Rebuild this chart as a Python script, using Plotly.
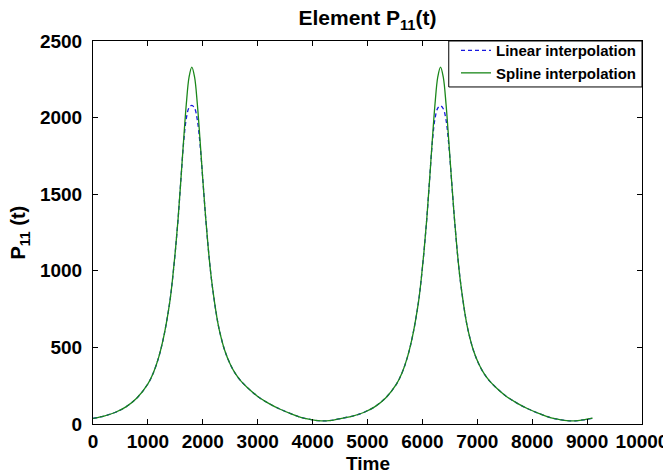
import plotly.graph_objects as go

# time samples (two periods, peaks near 1800 and 6330)
time = [0, 200, 400, 600, 800, 1000, 1100, 1200, 1300, 1400, 1450, 1500, 1550,
        1600, 1650, 1700, 1750, 1800, 1850, 1900, 1950, 2000, 2050, 2100, 2150,
        2200, 2250, 2300, 2400, 2500, 2600, 2700, 2800, 3000, 3200, 3400, 3600,
        3800, 4000, 4100, 4200, 4300, 4400,
        4530, 4730, 4930, 5130, 5330, 5530, 5630, 5730, 5830, 5930, 5980, 6030,
        6080, 6130, 6180, 6230, 6280, 6330, 6380, 6430, 6480, 6530, 6580, 6630,
        6680, 6730, 6780, 6830, 6930, 7030, 7130, 7230, 7330, 7530, 7730, 7930,
        8130, 8330, 8530, 8630, 8730, 8830, 8930, 9100]

spline_p11 = [37, 52, 75, 112, 170, 262, 335, 440, 590, 800, 950, 1130, 1340,
              1590, 1850, 2090, 2265, 2330, 2265, 2090, 1851, 1596, 1356, 1145, 968,
              830, 710, 615, 480, 390, 325, 278, 242, 180, 135, 98, 68,
              42, 27, 22, 20, 22, 27,
              37, 52, 75, 112, 170, 262, 335, 440, 590, 800, 950, 1130,
              1340, 1590, 1850, 2090, 2265, 2330, 2265, 2090, 1851, 1596, 1356, 1145,
              968, 830, 710, 615, 480, 390, 325, 278, 242, 180, 135, 98,
              68, 42, 27, 22, 20, 22, 27, 38]

linear_p11 = [37, 52, 75, 112, 170, 262, 335, 440, 590, 800, 950, 1130, 1340,
              1590, 1835, 1995, 2065, 2080, 2062, 1985, 1825, 1596, 1356, 1145, 968,
              830, 710, 615, 480, 390, 325, 278, 242, 180, 135, 98, 68,
              42, 27, 22, 20, 22, 27,
              37, 52, 75, 112, 170, 262, 335, 440, 590, 800, 950, 1130,
              1340, 1590, 1835, 1995, 2062, 2076, 2058, 1985, 1825, 1596, 1356, 1145,
              968, 830, 710, 615, 480, 390, 325, 278, 242, 180, 135, 98,
              68, 42, 27, 22, 20, 22, 27, 38]

font = "Arial, Liberation Sans, Helvetica, sans-serif"

fig = go.Figure()
fig.add_trace(go.Scatter(x=time, y=linear_p11, mode="lines", name="Linear interpolation",
                         line=dict(color="#1818e0", width=1.3, dash="4px,3px", shape="spline")))
fig.add_trace(go.Scatter(x=time, y=spline_p11, mode="lines", name="Spline interpolation",
                         line=dict(color="#1a871a", width=1.3, shape="spline")))

axis_style = dict(showline=True, linecolor="black", linewidth=1, mirror="ticks",
                  ticks="inside", ticklen=5, tickcolor="black", showgrid=False,
                  zeroline=False, automargin=False, tickformat="d",
                  tickfont=dict(family=font, size=19, color="black"))

# the page body has an 8px margin, so the margins are shifted by 8px
fig.update_layout(
    width=671, height=474,
    margin=dict(l=85, r=37, t=33, b=58),
    paper_bgcolor="white", plot_bgcolor="white",
    font=dict(family=font, color="black", weight="bold"),
    title=dict(text="<b>Element P<sub>11</sub>(t)</b>", x=0.5, xref="paper",
               xanchor="center", y=1 - 10 / 474, yref="container", yanchor="middle",
               font=dict(size=21)),
    xaxis=dict(range=[0, 10000], dtick=1000, ticklabelstandoff=0, **axis_style),
    yaxis=dict(range=[0, 2500], dtick=500, ticklabelstandoff=6, **axis_style),
    legend=dict(x=1, y=1.018, xanchor="right", yanchor="top",
                bgcolor="rgba(0,0,0,0)", borderwidth=0, tracegroupgap=0,
                font=dict(size=15, family=font)),
    showlegend=True,
    # legend box (tighter than plotly's own legend border)
    shapes=[dict(type="rect", xref="paper", yref="paper", x0=0.648, x1=1,
                 y0=0.880, y1=1, fillcolor="white", layer="above",
                 line=dict(color="black", width=1))],
    annotations=[
        dict(text="<b>Time</b>", xref="paper", yref="paper", x=0.5, y=-0.102,
             yanchor="middle", showarrow=False, font=dict(size=19)),
        dict(text="<b>P<sub>11</sub> (t)</b>", xref="paper", yref="paper",
             x=-0.133, y=0.5, xanchor="center", yanchor="middle", textangle=-90,
             showarrow=False, font=dict(size=20)),
    ],
)

fig.write_html("out.html")
